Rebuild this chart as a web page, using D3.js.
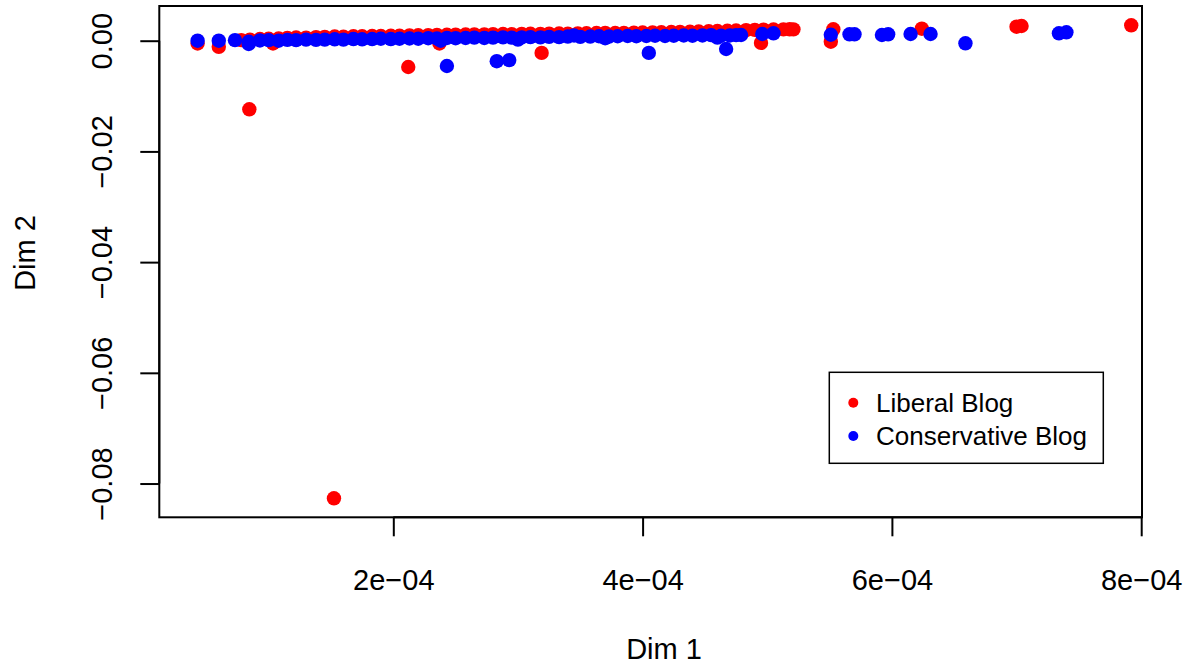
<html>
	<head>
		<meta content="text/html;charset=utf-8" http-equiv="Content-Type">
		<script src="https://d3js.org/d3.v7.min.js"></script>
		<style>
			body { margin: 0; background: #fff; }
			text { font-family: "Liberation Sans", Arial, Helvetica, sans-serif; fill: #000; }
		</style>
	</head>
	<body>
		<div id="stuff">
			<svg width="1190" height="667"></svg>
		</div>
		<script>

	// [Dim 1, Dim 2] per blog
	var liberalPoints = [
		[8.45e-5, -0.01239], [1.524e-4, -0.08267], [2.12e-4, -0.00475], [3.19e-4, -0.0022],
		[4.95e-4, -0.0004], [5.51e-4, -0.00018], [5.53e-4, 0.00206], [6.24e-4, 0.00217],
		[7.0e-4, 0.00253], [7.04e-4, 0.00266], [7.92e-4, 0.00278],
		[4.3e-5, -0.0005], [6.0e-5, -0.0011], [1.035e-4, -0.0005], [2.37e-4, -0.0005],
		[7.8e-5, 0.0001], [8.5e-5, 0.0002], [9.3e-5, 0.0003], [1.0e-4, 0.00035],
		[1.08e-4, 0.0004], [1.15e-4, 0.0005], [1.22e-4, 0.00058], [1.3e-4, 0.00055],
		[1.38e-4, 0.00065], [1.45e-4, 0.00068], [1.53e-4, 0.00075], [1.6e-4, 0.00072],
		[1.68e-4, 0.0008], [1.75e-4, 0.0008], [1.83e-4, 0.00085], [1.9e-4, 0.00084],
		[1.98e-4, 0.0009], [2.05e-4, 0.0009], [2.13e-4, 0.00095], [2.2e-4, 0.00098],
		[2.28e-4, 0.001], [2.35e-4, 0.00105], [2.43e-4, 0.00108], [2.5e-4, 0.0011],
		[2.58e-4, 0.00112], [2.65e-4, 0.00115], [2.73e-4, 0.00113], [2.8e-4, 0.00118],
		[2.88e-4, 0.0012], [2.95e-4, 0.00118], [3.03e-4, 0.00122], [3.1e-4, 0.00125],
		[3.18e-4, 0.00123], [3.25e-4, 0.00128], [3.33e-4, 0.0013], [3.4e-4, 0.00128],
		[3.48e-4, 0.00132], [3.55e-4, 0.00135], [3.63e-4, 0.00138], [3.7e-4, 0.0014],
		[3.78e-4, 0.00138], [3.85e-4, 0.00142], [3.93e-4, 0.00145], [4.0e-4, 0.00148],
		[4.08e-4, 0.0015], [4.15e-4, 0.00153], [4.23e-4, 0.00156], [4.3e-4, 0.0016],
		[4.38e-4, 0.00162], [4.45e-4, 0.00166], [4.53e-4, 0.0017], [4.6e-4, 0.00175],
		[4.68e-4, 0.0018], [4.75e-4, 0.00184], [4.83e-4, 0.0019], [4.9e-4, 0.00195],
		[4.97e-4, 0.002], [5.05e-4, 0.00202], [5.13e-4, 0.00205], [5.18e-4, 0.00206],
		[5.21e-4, 0.00205]
	];

	var conservativePoints = [
		[2.43e-4, -0.00457], [2.83e-4, -0.0037], [2.93e-4, -0.0035], [4.05e-4, -0.0022],
		[4.67e-4, -0.0015], [6.59e-4, -0.00047],
		[4.79e-4, 0.00103], [4.96e-4, 0.00121], [5.05e-4, 0.00134], [5.51e-4, 0.00108],
		[5.66e-4, 0.00116], [5.7e-4, 0.00116], [5.92e-4, 0.00103], [5.97e-4, 0.00116],
		[6.15e-4, 0.00121], [6.31e-4, 0.00121], [7.34e-4, 0.00134], [7.4e-4, 0.00152],
		[4.3e-5, 0.0], [6.0e-5, 0.0], [7.3e-5, 0.0001], [8.4e-5, -0.0002], [8.4e-5, -0.0006],
		[9.3e-5, 0.00005], [1.0e-4, 0.0001], [1.08e-4, 0.0], [1.15e-4, 0.00015],
		[1.22e-4, 0.0001], [1.3e-4, 0.0002], [1.38e-4, 0.00015], [1.45e-4, 0.0002],
		[1.53e-4, 0.00025], [1.6e-4, 0.0002], [1.68e-4, 0.0003], [1.75e-4, 0.00025],
		[1.83e-4, 0.0003], [1.9e-4, 0.00035], [1.98e-4, 0.0003], [2.05e-4, 0.00035],
		[2.13e-4, 0.0004], [2.2e-4, 0.00035], [2.28e-4, 0.00045], [2.35e-4, 0.0004],
		[2.38e-4, 0.0], [2.43e-4, 0.0005], [2.5e-4, 0.00045], [2.58e-4, 0.0005],
		[2.65e-4, 0.00055], [2.73e-4, 0.0005], [2.8e-4, 0.00055], [2.88e-4, 0.0006],
		[2.95e-4, 0.00055], [3.0e-4, 0.0002], [3.03e-4, 0.0006], [3.1e-4, 0.00065],
		[3.18e-4, 0.0006], [3.25e-4, 0.0007], [3.33e-4, 0.00065], [3.4e-4, 0.00075],
		[3.45e-4, 0.00095], [3.5e-4, 0.0007], [3.58e-4, 0.00075], [3.65e-4, 0.0008],
		[3.7e-4, 0.00045], [3.73e-4, 0.00075], [3.8e-4, 0.0008], [3.88e-4, 0.00085],
		[3.95e-4, 0.0008], [4.03e-4, 0.00085], [4.1e-4, 0.0009], [4.18e-4, 0.00085],
		[4.25e-4, 0.0009], [4.33e-4, 0.00095], [4.4e-4, 0.0009], [4.48e-4, 0.00095],
		[4.55e-4, 0.001], [4.6e-4, 0.00055], [4.63e-4, 0.0009], [4.7e-4, 0.00095],
		[4.75e-4, 0.001]
	];

	var xTicks = [2e-4, 4e-4, 6e-4, 8e-4];
	var xTickLabels = ["2e\u221204", "4e\u221204", "6e\u221204", "8e\u221204"];
	var yTicks = [0, -0.02, -0.04, -0.06, -0.08];
	var yTickLabels = ["0.00", "\u22120.02", "\u22120.04", "\u22120.06", "\u22120.08"];
	var legendLabels = ["Liberal Blog", "Conservative Blog"];
	var legendColors = ["rgb(255,0,0)", "rgb(0,0,255)"];

	drawChart();

	function drawChart() {
		var plotLeft = 159.3;
		var plotRight = 1142;
		var plotTop = 6;
		var plotBottom = 517.3;
		var tickLength = 19;
		var axisFont = "29px";
		var legendFont = "26px";
		var pointRadius = 7.2;

		var svg = d3.select("#stuff").select("svg");

		var x = d3.scaleLinear()
			.domain([1.2274e-5, 8.0064e-4])
			.range([plotLeft, plotRight]);
		var y = d3.scaleLinear()
			.domain([-0.0861, 0.00627])
			.range([plotBottom, plotTop]);

		// points: liberal first, conservative drawn over them
		svg.append("g").selectAll("circle")
			.data(liberalPoints)
			.enter().append("circle")
			.attr("cx", function(d) { return x(d[0]); })
			.attr("cy", function(d) { return y(d[1]); })
			.attr("r", pointRadius)
			.attr("fill", legendColors[0]);
		svg.append("g").selectAll("circle")
			.data(conservativePoints)
			.enter().append("circle")
			.attr("cx", function(d) { return x(d[0]); })
			.attr("cy", function(d) { return y(d[1]); })
			.attr("r", pointRadius)
			.attr("fill", legendColors[1]);

		// box round the plot
		svg.append("rect")
			.attr("x", plotLeft)
			.attr("y", plotTop)
			.attr("width", plotRight - plotLeft)
			.attr("height", plotBottom - plotTop)
			.attr("fill", "none")
			.attr("stroke", "#000")
			.attr("stroke-width", 2);

		// x axis
		var xAxis = svg.append("g")
			.attr("transform", "translate(0," + plotBottom + ")")
			.call(d3.axisBottom(x)
				.tickValues(xTicks)
				.tickSize(tickLength)
				.tickSizeOuter(0)
				.tickFormat(function(d, i) { return xTickLabels[i]; }));
		xAxis.select(".domain")
			.attr("d", "M" + x(xTicks[0]) + ",0H" + x(xTicks[xTicks.length - 1]))
			.attr("stroke-width", 2);
		xAxis.selectAll(".tick line").attr("stroke-width", 2);
		xAxis.selectAll(".tick text")
			.attr("y", 73)
			.attr("dy", null)
			.style("font-size", axisFont)
			.attr("font-family", null);

		// y axis, labels turned to read upward
		var yAxis = svg.append("g")
			.attr("transform", "translate(" + plotLeft + ",0)")
			.call(d3.axisLeft(y)
				.tickValues(yTicks)
				.tickSize(tickLength)
				.tickSizeOuter(0)
				.tickFormat(function(d, i) { return yTickLabels[i]; }));
		yAxis.select(".domain")
			.attr("d", "M0," + y(yTicks[0]) + "V" + y(yTicks[yTicks.length - 1]))
			.attr("stroke-width", 2);
		yAxis.selectAll(".tick line").attr("stroke-width", 2);
		yAxis.selectAll(".tick text")
			.attr("x", null)
			.attr("dy", null)
			.attr("transform", "translate(-47,0) rotate(-90)")
			.style("text-anchor", "middle")
			.style("font-size", axisFont)
			.attr("font-family", null);

		// axis titles
		svg.append("text")
			.attr("x", 664)
			.attr("y", 659)
			.style("font-size", axisFont)
			.style("text-anchor", "middle")
			.text("Dim 1");
		svg.append("text")
			.attr("transform", "translate(35,253) rotate(-90)")
			.style("font-size", axisFont)
			.style("text-anchor", "middle")
			.text("Dim 2");

		// legend
		var legend = svg.append("g").attr("transform", "translate(829.3,372.3)");
		legend.append("rect")
			.attr("width", 274)
			.attr("height", 91)
			.attr("fill", "#fff")
			.attr("stroke", "#000")
			.attr("stroke-width", 1.5);
		legendLabels.forEach(function(label, i) {
			legend.append("circle")
				.attr("cx", 24)
				.attr("cy", 30.4 + i * 33.3)
				.attr("r", 5)
				.attr("fill", legendColors[i]);
			legend.append("text")
				.attr("x", 46.7)
				.attr("y", 39.4 + i * 33.3)
				.style("font-size", legendFont)
				.text(label);
		});
	}

		</script>
	</body>
</html>
